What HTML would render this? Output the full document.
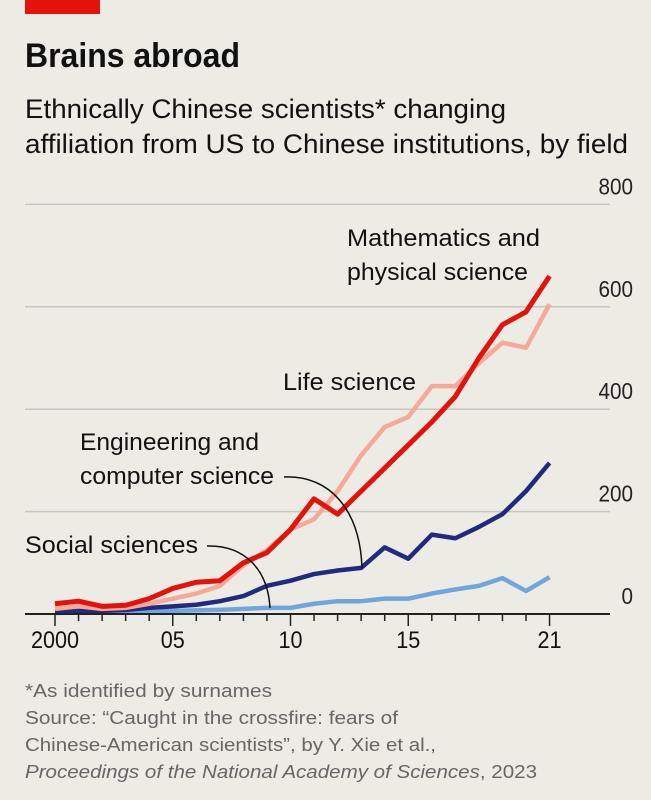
<!DOCTYPE html>
<html><head><meta charset="utf-8"><style>
body{margin:0;background:#ecebe4;}
#wrap{position:relative;width:651px;height:800px;background:#ecebe4;overflow:hidden;}
svg text{font-family:"Liberation Sans",sans-serif;}
</style></head><body>
<div id="wrap">
<div style="position:absolute;left:25px;top:0;width:75px;height:14px;background:#e3120b"></div>
<svg id="chart" width="651" height="800" style="position:absolute;left:0;top:0">
<text x="25" y="67" font-size="34" font-weight="bold" fill="#111" textLength="215" lengthAdjust="spacingAndGlyphs">Brains abroad</text>
<text x="25" y="118" font-size="27" fill="#111" textLength="481" lengthAdjust="spacingAndGlyphs">Ethnically Chinese scientists* changing</text>
<text x="25" y="153" font-size="27" fill="#111" textLength="603" lengthAdjust="spacingAndGlyphs">affiliation from US to Chinese institutions, by field</text>
<g fill="#666" font-size="18">
<text x="25" y="697" textLength="247" lengthAdjust="spacingAndGlyphs">*As identified by surnames</text>
<text x="25" y="724" textLength="373" lengthAdjust="spacingAndGlyphs">Source: “Caught in the crossfire: fears of</text>
<text x="25" y="751" textLength="411" lengthAdjust="spacingAndGlyphs">Chinese-American scientists”, by Y. Xie et al.,</text>
<text x="25" y="778" textLength="512" lengthAdjust="spacingAndGlyphs"><tspan font-style="italic">Proceedings of the National Academy of Sciences</tspan>, 2023</text>
</g>
</svg>
</div>
<script>
const years=[2000,2001,2002,2003,2004,2005,2006,2007,2008,2009,2010,2011,2012,2013,2014,2015,2016,2017,2018,2019,2020,2021];
const mathVals=[20,25,15,17,30,50,62,65,100,120,165,225,195,240,285,330,375,425,500,565,590,660];
const lifeVals=[10,15,10,12,20,30,40,55,95,125,165,185,240,310,365,385,445,445,490,530,520,605];
const engVals=[4,6,6,8,12,15,18,25,35,55,65,78,85,90,130,108,155,148,170,195,240,295];
const socVals=[2,3,3,4,5,6,7,8,10,12,12,20,25,25,30,30,40,48,55,70,45,72];
const yTicks=[0,200,400,600,800];
const xTickLabels={2000:"2000",2005:"05",2010:"10",2015:"15",2021:"21"};
const NS="http://www.w3.org/2000/svg";
const svg=document.getElementById('chart');
const x=y=>55+(y-2000)*23.55;
const yS=v=>614-v*0.512;
function mk(t,a){const e=document.createElementNS(NS,t);for(const k in a)e.setAttribute(k,a[k]);svg.appendChild(e);return e;}
yTicks.forEach(v=>{
 if(v>0){const g=mk('line',{x1:25,x2:610,y1:yS(v),y2:yS(v),stroke:'#c8c6c0','stroke-width':1.5});
 
 }
 const t=mk('text',{x:633,y:yS(v)-10,'text-anchor':'end','font-size':23,fill:'#222','transform':'translate(633,0) scale(0.9,1) translate(-633,0)'});
 t.textContent=v;
 
 
});
function series(vals,color,w,name){
 const p=mk('polyline',{points:vals.map((v,i)=>x(years[i])+','+yS(v)).join(' '),fill:'none',stroke:color,'stroke-width':w,'stroke-linejoin':'round'});
 
 
}
series(socVals,'#6fa6de',4.5,'social-sciences-line');
series(engVals,'#222a80',4.5,'engineering-line');
series(lifeVals,'#f6a999',4.5,'life-science-line');
series(mathVals,'#e3120b',5,'mathematics-line');
const base=mk('line',{x1:25,x2:610,y1:614,y2:614,stroke:'#222','stroke-width':2});


years.forEach(yr=>{
 const big=xTickLabels[yr]!==undefined;
 const tk=mk('line',{x1:x(yr),x2:x(yr),y1:614,y2:big?626:621,stroke:'#222','stroke-width':1.5});
 
 
 if(big){const t=mk('text',{x:x(yr),y:648,'text-anchor':'middle','font-size':24,fill:'#111','transform':'translate('+x(yr)+',0) scale(0.9,1) translate('+(-x(yr))+',0)'});
 t.textContent=xTickLabels[yr];
 
 }
});
function lbl(txt,xx,yy,w,name){const t=mk('text',{x:xx,y:yy,'font-size':24,fill:'#111',textLength:w,lengthAdjust:'spacingAndGlyphs'});t.textContent=txt;
 
 }
lbl('Mathematics and',347,246,193,'label-mathematics');
lbl('physical science',347,280,181,'label-mathematics-2');
lbl('Life science',283,390,133,'label-life-science');
lbl('Engineering and',80,450,179,'label-engineering');
lbl('computer science',80,484,194,'label-engineering-2');
lbl('Social sciences',25,553,173,'label-social-sciences');
const l1=mk('path',{d:'M284,477 C330,475 360,510 362,568',fill:'none',stroke:'#111','stroke-width':1.5});


const l2=mk('path',{d:'M207,546 C245,545 268,570 270,608',fill:'none',stroke:'#111','stroke-width':1.5});


</script>
</body></html>
